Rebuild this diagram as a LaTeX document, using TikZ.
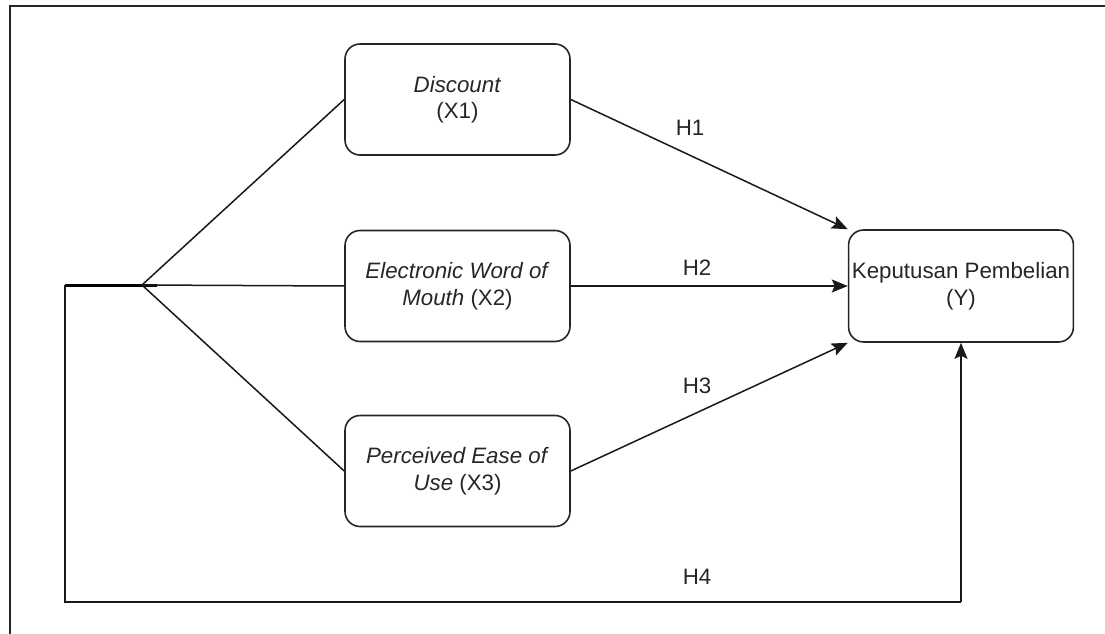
\documentclass[tikz,border=0pt]{standalone}
\usepackage{fontspec}
\setmainfont{Liberation Sans}
\usetikzlibrary{arrows.meta}
\begin{document}
\begin{tikzpicture}[x=1pt,y=-1pt,
  varbox/.style={draw=black!85, line width=1.6pt, rounded corners=15pt, minimum width=225pt, minimum height=111pt, align=center, font=\fontsize{22.3}{26.5}\selectfont, text=black!85},
  conn/.style={draw=black!90, line width=1.5pt},
  arr/.style={conn, -{Stealth[length=16pt,width=13pt,inset=3pt]}},
  lbl/.style={font=\fontsize{22.3}{26.5}\selectfont, text=black!85}]
\useasboundingbox (0,0) rectangle (1105,634);
% outer frame (top and left only)
\draw[line width=2.4pt, black!85] (1105,6) -- (10,6) -- (10,634);
% nodes
\node[varbox] (x1) at (457.5,99.5) {\textit{Discount}\\(X1)};
\node[varbox] (x2) at (457.5,286) {\textit{Electronic Word of}\\\textit{Mouth} (X2)};
\node[varbox] (x3) at (457.5,471) {\textit{Perceived Ease of}\\\textit{Use} (X3)};
\node[varbox, minimum width=224pt, minimum height=112pt] (y) at (961,286) {Keputusan Pembelian\\(Y)};
% junction
\coordinate (j) at (142,285);
\coordinate (s) at (65,285);
\coordinate (c1) at (65,602);
\coordinate (c2) at (961,602);
\draw[line width=3pt, black] (s) -- (157,285);
\draw[conn] (j) -- (x1.west);
\draw[conn] (j) -- (x2.west);
\draw[conn] (j) -- (x3.west);
\draw[conn] (s) -- (c1) -- (c2);
\draw[arr] (c2) -- (y.south);
% arrows
\draw[arr] (x1.east) -- (y.north west);
\draw[arr] (x2.east) -- (y.west);
\draw[arr] (x3.east) -- (y.south west);
% labels
\node[lbl] (h1) at (690,128) {H1};
\node[lbl] (h2) at (697,268) {H2};
\node[lbl] (h3) at (697,386) {H3};
\node[lbl] (h4) at (697,577) {H4};
\end{tikzpicture}
\end{document}
